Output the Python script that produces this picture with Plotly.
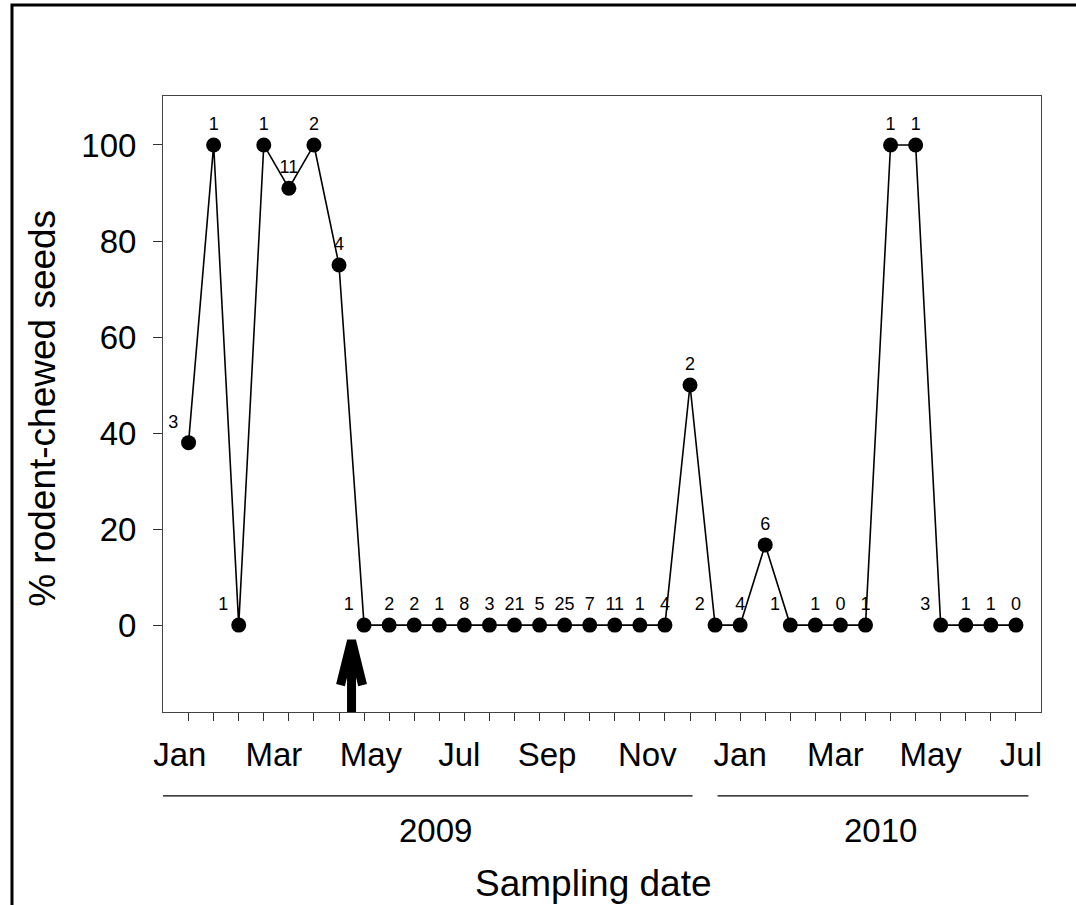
import plotly.graph_objects as go

# ---------------- data ----------------
pct_chewed = [38, 100, 0, 100, 91, 100, 75,
              0, 0, 0, 0, 0, 0, 0, 0, 0, 0, 0, 0, 0,
              50, 0, 0, 16.7, 0, 0, 0, 0, 100, 100, 0, 0, 0, 0]
n_seeds = ["3", "1", "1", "1", "11", "2", "4",
           "1", "2", "2", "1", "8", "3", "21", "5", "25", "7", "11", "1", "4",
           "2", "2", "4", "6", "1", "1", "0", "1", "1", "1", "3", "1", "1", "0"]
label_side = ["top left", "top center", "top left", "top center", "top center", "top center", "top center",
              "top left", "top center", "top center", "top center", "top center", "top center", "top center",
              "top center", "top center", "top center", "top center", "top center", "top center",
              "top center", "top left", "top center", "top center", "top left", "top center", "top center",
              "top center", "top center", "top center", "top left", "top center", "top center", "top center"]
sample_pos = list(range(len(pct_chewed)))

month_labels = ["Jan", "Mar", "May", "Jul", "Sep", "Nov", "Jan", "Mar", "May", "Jul"]
month_pos = [-0.35, 3.4, 7.27, 10.8, 14.3, 18.3, 22.0, 25.8, 29.6, 33.2]

years = ["2009", "2010"]
year_spans = [(-1.05, 20.1), (21.1, 33.5)]
year_label_pos = [9.85, 27.6]

arrow_x = 6.5       # event marker position (between samples)
y_ticks = [0, 20, 40, 60, 80, 100]

FONT = "Arial, Liberation Sans, sans-serif"

fig = go.Figure()
fig.add_trace(go.Scatter(
    x=sample_pos, y=pct_chewed, mode="lines+markers+text",
    text=n_seeds, textposition=label_side,
    textfont=dict(family=FONT, size=18, color="black"),
    line=dict(color="black", width=1.6),
    marker=dict(color="black", size=15),
    showlegend=False, cliponaxis=False,
))
# invisible trace to activate xaxis2 (month labels)
fig.add_trace(go.Scatter(x=[month_pos[0]], y=[0], xaxis="x2", mode="markers",
                         marker=dict(opacity=0), showlegend=False, hoverinfo="skip"))

x_range = [-1.02, 34.0]
fig.update_layout(
    width=1076, height=905,
    margin=dict(l=163, r=35, t=96, b=193),
    paper_bgcolor="white", plot_bgcolor="white",
    font=dict(family=FONT, color="black"),
    xaxis=dict(range=x_range, tickvals=sample_pos, showticklabels=False,
               ticks="outside", ticklen=8, tickcolor="#333", tickwidth=1,
               showline=True, linecolor="#444", linewidth=1, mirror=True,
               showgrid=False, zeroline=False),
    xaxis2=dict(range=x_range, overlaying="x", side="bottom", anchor="y",
                tickvals=month_pos, ticktext=month_labels, ticks="",
                tickfont=dict(family=FONT, size=33, color="black"),
                ticklabelstandoff=20, showline=False, showgrid=False, zeroline=False),
    yaxis=dict(range=[-18.1, 110.2], tickvals=y_ticks,
               ticks="outside", ticklen=9, tickcolor="#333", tickwidth=1,
               tickfont=dict(family=FONT, size=33, color="black"),
               ticklabelstandoff=10,
               showline=True, linecolor="#444", linewidth=1, mirror=True,
               showgrid=False, zeroline=False),
)

# year brackets and labels
for yr, (a, b), xp in zip(years, year_spans, year_label_pos):
    fig.add_shape(type="line", xref="x", yref="paper", x0=a, x1=b, y0=-0.136, y1=-0.136,
                  line=dict(color="black", width=1.2))
    fig.add_annotation(x=xp, y=-0.192, xref="x", yref="paper", text=yr, showarrow=False,
                       font=dict(family=FONT, size=33, color="black"),
                       xanchor="center", yanchor="middle")

# axis titles
fig.add_annotation(x=0.49, y=-0.2776, xref="paper", yref="paper", text="Sampling date",
                   showarrow=False, font=dict(family=FONT, size=37, color="black"),
                   xanchor="center", yanchor="middle")
fig.add_annotation(x=-0.138, y=0.4935, xref="paper", yref="paper", text="% rodent-chewed seeds",
                   showarrow=False, textangle=-90, font=dict(family=FONT, size=37, color="black"),
                   xanchor="center", yanchor="middle")

# event arrow
fig.add_shape(type="path", xref="x", yref="y",
              path=f"M {arrow_x},-18.1 L {arrow_x},-3.5 M {arrow_x-0.44},-12.5 L {arrow_x},-3.2 L {arrow_x+0.44},-12.5",
              line=dict(color="black", width=9))

# outer frame (cropped at right/bottom)
fig.add_shape(type="rect", xref="paper", yref="paper",
              x0=-0.172, x1=1.2, y0=-0.45, y1=1.1477,
              line=dict(color="black", width=3))

fig.write_html("out.html", config={"displayModeBar": False},
               post_script="document.body.style.margin='0px';")
